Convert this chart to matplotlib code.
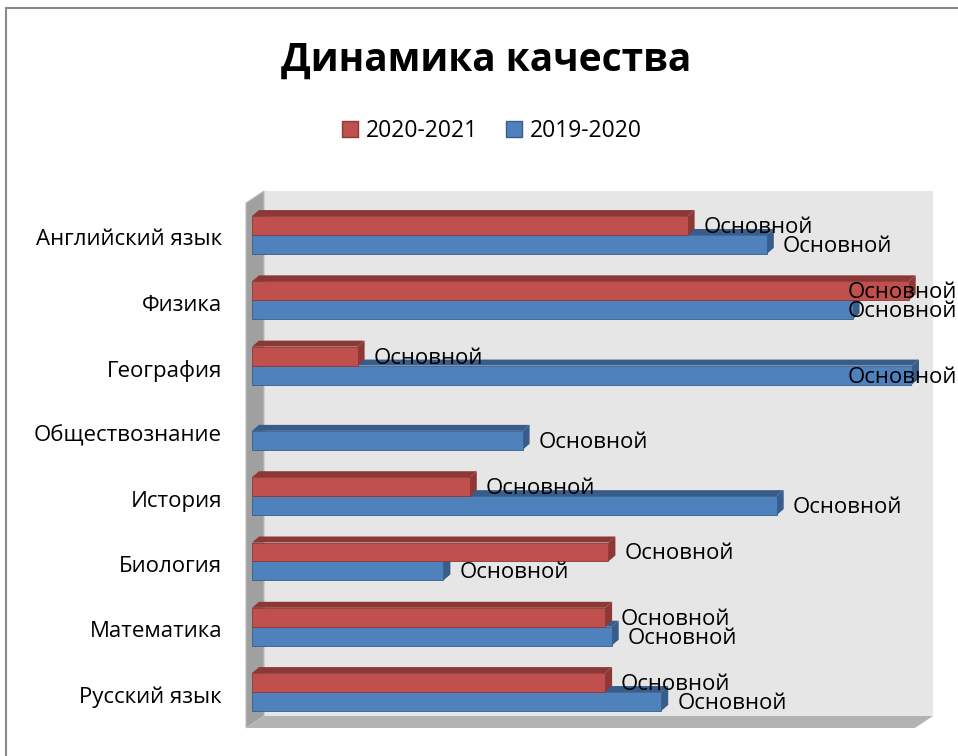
import matplotlib.pyplot as plt
from matplotlib.patches import Polygon, Patch

# данные (сверху вниз, как на картинке)
subjects = ["Английский язык", "Физика", "География", "Обществознание",
            "История", "Биология", "Математика", "Русский язык"]
year_2021 = [0.66, 0.995, 0.16, 0.0, 0.33, 0.54, 0.535, 0.535]
year_2020 = [0.78, 0.91, 1.0, 0.41, 0.795, 0.29, 0.545, 0.62]
series_names = ["2020-2021", "2019-2020"]
bar_label = "Основной"

RED, RED_DARK = "#C0504D", "#8C3836"
BLUE, BLUE_DARK = "#4F81BD", "#385D8A"

plt.rcParams['font.family'] = ['Open Sans', 'DejaVu Sans']

W, H = 958, 756
fig = plt.figure(figsize=(W / 100, H / 100), dpi=100)
# фронтальная плоскость: x 252..912 px, y 203..728 px
ax = fig.add_axes([252 / W, (H - 728) / H, 660 / W, 525 / H])
ax.set_xlim(0, 1)
ymin, ymax = -0.551, 7.490
ax.set_ylim(ymin, ymax)
ax.axis("off")

px_x = 1 / 660          # данные на пиксель по x
px_y = (ymax - ymin) / 525

# стенки (псевдо 3D)
wdx, wdy = 18 * px_x, 12 * px_y
x0, x1 = -6 * px_x, 1.0045
back = Polygon([(x0 + wdx, ymin + wdy), (x1 + wdx, ymin + wdy),
                (x1 + wdx, ymax + wdy), (x0 + wdx, ymax + wdy)],
               closed=True, fc="#e6e6e6", ec="none", clip_on=False, zorder=0)
left = Polygon([(x0, ymin), (x0, ymax), (x0 + wdx, ymax + wdy), (x0 + wdx, ymin + wdy)],
               closed=True, fc="#a0a0a0", ec="#bdbdbd", lw=0.8, clip_on=False, zorder=1)
floor = Polygon([(x0, ymin), (x1, ymin), (x1 + wdx, ymin + wdy), (x0 + wdx, ymin + wdy)],
                closed=True, fc="#b3b3b3", ec="none", clip_on=False, zorder=1)
for p in (back, floor, left):
    ax.add_patch(p)

n = len(subjects)
pos = [n - 1 - i for i in range(n)]
bh = 0.29
bdx, bdy = 7 * px_x, 6 * px_y


def bar3d(y, v, face, dark, z):
    if v <= 0:
        return
    ax.barh(y, v, height=bh, color=face, edgecolor=dark, linewidth=0.6, zorder=z + 1)
    b, t = y - bh / 2, y + bh / 2
    ax.add_patch(Polygon([(0, t), (v, t), (v + bdx, t + bdy), (bdx, t + bdy)],
                         closed=True, fc=dark, ec="none", zorder=z, clip_on=False))
    ax.add_patch(Polygon([(v, b), (v + bdx, b + bdy), (v + bdx, t + bdy), (v, t)],
                         closed=True, fc=dark, ec="none", zorder=z, clip_on=False))


clamp = (848 - 252) * px_x
for i in range(n):
    c = pos[i]
    bar3d(c - bh / 2, year_2020[i], BLUE, BLUE_DARK, 3)
    bar3d(c + bh / 2, year_2021[i], RED, RED_DARK, 5)
for i in range(n):
    c = pos[i]
    for v, yy in ((year_2021[i], c + bh / 2), (year_2020[i], c - bh / 2)):
        if v <= 0:
            continue
        lx = min(v + bdx + 9 * px_x, clamp)
        ax.text(lx, yy - 2 * px_y, bar_label, ha="left", va="center",
                fontsize=16, color="black", zorder=10, clip_on=False)
    ax.text(-30 * px_x, c - 5 * px_y, subjects[i], ha="right", va="center",
            fontsize=16, color="black")

fig.text(486 / W, 1 - 60 / H, "Динамика качества", ha="center", va="center",
         fontsize=28, fontweight="bold")

handles = [Patch(fc=RED, ec=RED_DARK), Patch(fc=BLUE, ec=BLUE_DARK)]
fig.legend(handles, series_names, loc="center", bbox_to_anchor=(492 / W, 1 - 131 / H),
           ncol=2, frameon=False, fontsize=16.5, handlelength=0.7, handleheight=0.7,
           handletextpad=0.35, columnspacing=1.2)

# рамка
fig.add_artist(plt.Line2D([6 / W, 6 / W], [0, 1 - 8 / H], color="#8a8a8a", lw=1.5))
fig.add_artist(plt.Line2D([6 / W, 1], [1 - 8 / H, 1 - 8 / H], color="#8a8a8a", lw=1.5))

fig.savefig("out.png", dpi=100)
